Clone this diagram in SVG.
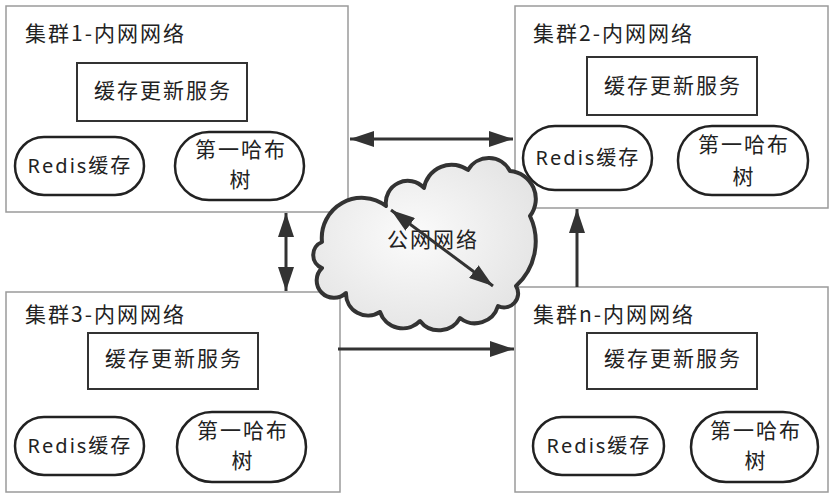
<svg xmlns="http://www.w3.org/2000/svg" width="836" height="500" viewBox="0 0 836 500">
<style>
.cluster{fill:#fff;stroke:#9a9a9a;stroke-width:1.5}
.svc{fill:#fff;stroke:#333;stroke-width:2}
.pill{fill:#fff;stroke:#222;stroke-width:2.5}
.t{font-family:"Noto Sans CJK SC","Noto Sans",sans-serif;font-size:21px;fill:#222;letter-spacing:2px}
.c{text-anchor:middle}
.r{font-family:"Noto Sans","Noto Sans CJK SC",sans-serif;font-size:20px;fill:#222;letter-spacing:2px;text-anchor:middle}
.ln{stroke:#333;stroke-width:3;fill:none}
</style>
<defs>
<marker id="ah" markerUnits="userSpaceOnUse" markerWidth="24" markerHeight="16" refX="24" refY="8" orient="auto-start-reverse" viewBox="0 0 24 16">
<path d="M0,0 L24,8 L0,16 z" fill="#333"/>
</marker>
<radialGradient id="cg" cx="0.45" cy="0.45" r="0.6">
<stop offset="0" stop-color="#fbfbfb"/>
<stop offset="1" stop-color="#e4e4e4"/>
</radialGradient>
</defs>
<rect width="836" height="500" fill="#fff"/>

<g id="cluster1">
<rect class="cluster" x="6" y="6" width="342" height="206"/>
<text class="t" x="25" y="41">集群1-内网网络</text>
<rect class="svc" x="77" y="63" width="170" height="58"/>
<text class="t c" x="163" y="98">缓存更新服务</text>
<rect class="pill" x="15" y="137" width="129" height="58" rx="29"/>
<text class="r" x="80" y="173">Redis缓存</text>
<rect class="pill" x="175" y="132" width="129" height="68" rx="34"/>
<text class="t c" x="241" y="157">第一哈布</text>
<text class="t c" x="241" y="187">树</text>
</g>

<g id="cluster2">
<rect class="cluster" x="515" y="6" width="313" height="202"/>
<text class="t" x="533" y="41">集群2-内网网络</text>
<rect class="svc" x="587" y="57" width="170" height="58"/>
<text class="t c" x="673" y="93">缓存更新服务</text>
<rect class="pill" x="523" y="126" width="129" height="64" rx="32"/>
<text class="r" x="588" y="165">Redis缓存</text>
<rect class="pill" x="678" y="126" width="130" height="69" rx="34"/>
<text class="t c" x="744" y="152">第一哈布</text>
<text class="t c" x="744" y="184">树</text>
</g>

<g id="cluster3">
<rect class="cluster" x="6" y="292" width="334" height="200"/>
<text class="t" x="25" y="322">集群3-内网网络</text>
<rect class="svc" x="88" y="333" width="170" height="56"/>
<text class="t c" x="174" y="366">缓存更新服务</text>
<rect class="pill" x="15" y="417" width="129" height="58" rx="29"/>
<text class="r" x="80" y="453">Redis缓存</text>
<rect class="pill" x="177" y="412" width="129" height="70" rx="35"/>
<text class="t c" x="243" y="438">第一哈布</text>
<text class="t c" x="243" y="468">树</text>
</g>

<g id="clustern">
<rect class="cluster" x="515" y="287" width="313" height="205"/>
<text class="t" x="533" y="322">集群n-内网网络</text>
<rect class="svc" x="587" y="333" width="170" height="56"/>
<text class="t c" x="673" y="366">缓存更新服务</text>
<rect class="pill" x="533" y="417" width="131" height="58" rx="29"/>
<text class="r" x="599" y="453">Redis缓存</text>
<rect class="pill" x="691" y="412" width="127" height="70" rx="35"/>
<text class="t c" x="756" y="438">第一哈布</text>
<text class="t c" x="756" y="468">树</text>
</g>

<g id="cloud">
<path d="M322,242 A40,40 0 0 1 386,206 A22,22 0 0 1 424,188 A28,28 0 0 1 468,170 A24,24 0 0 1 510,171 A28,28 0 0 1 530,216 A60,60 0 0 1 516,286 A14,14 0 0 1 498,306 A24,24 0 0 1 460,318 A24,24 0 0 1 420,321 A24,24 0 0 1 380,312 A22,22 0 0 1 346,293 A16,16 0 0 1 322,268 A14,14 0 0 1 322,242 z" fill="url(#cg)" stroke="#333" stroke-width="4" stroke-linejoin="round"/>
<text class="t c" x="433" y="247">公网网络</text>
</g>

<g id="connectors">
<line class="ln" x1="350" y1="139" x2="513" y2="139" marker-start="url(#ah)" marker-end="url(#ah)"/>
<line class="ln" x1="286" y1="213" x2="286" y2="291" marker-start="url(#ah)" marker-end="url(#ah)"/>
<line class="ln" x1="338" y1="349" x2="514" y2="349" marker-end="url(#ah)"/>
<line class="ln" x1="577" y1="287" x2="577" y2="209" marker-end="url(#ah)"/>
<line class="ln" x1="391" y1="210" x2="493" y2="286" marker-start="url(#ah)" marker-end="url(#ah)"/>
</g>
</svg>
